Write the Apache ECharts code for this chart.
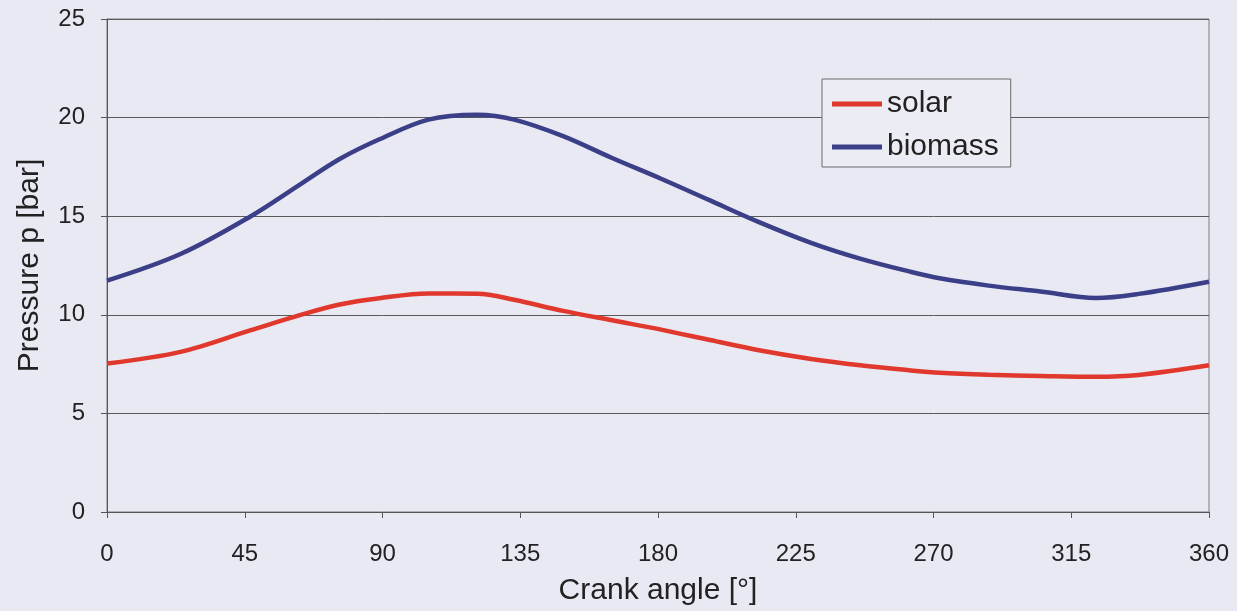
<!DOCTYPE html>
<html><head><meta charset="utf-8">
<script src="https://cdn.jsdelivr.net/npm/echarts@6/dist/echarts.min.js"></script>
<style>html,body{margin:0;padding:0;background:#e9e9f3;}#c{width:1237px;height:611px;}</style>
</head><body><div id="c"></div>
<script>
const angles  = [0, 24, 47, 63, 76, 89, 105, 121, 133, 149, 165, 181, 197, 213, 230, 246, 262, 272, 288, 305, 323, 337, 360];
const solar   = [7.53, 8.12, 9.22, 9.98, 10.52, 10.84, 11.08, 11.07, 10.76, 10.2, 9.72, 9.25, 8.72, 8.2, 7.76, 7.44, 7.19, 7.06, 6.96, 6.9, 6.86, 6.95, 7.44];
const biomass = [11.73, 13.08, 15.0, 16.6, 17.9, 18.9, 19.9, 20.15, 19.9, 19.06, 17.95, 16.9, 15.8, 14.7, 13.65, 12.85, 12.2, 11.85, 11.48, 11.18, 10.85, 11.06, 11.68];

const chart = echarts.init(document.getElementById('c'));
const font = 'Liberation Sans, Arial, sans-serif';
chart.setOption({
  backgroundColor: '#e9e9f3',
  animation: false,
  grid: { left: 107, right: 28, top: 19, bottom: 97, show: true, borderColor: '#7a7a7a', borderWidth: 1 },
  legend: {
    orient: 'vertical', left: 822, top: 79,
    data: ['solar', 'biomass'],
    icon: 'rect', itemWidth: 50, itemHeight: 5, itemGap: 13,
    borderColor: '#6a6a6a', borderWidth: 1, padding: [10, 12, 5, 10],
    backgroundColor: '#ececf4',
    textStyle: { fontFamily: font, fontSize: 30, color: '#222' }
  },
  xAxis: {
    type: 'value', min: 0, max: 360, interval: 45,
    name: 'Crank angle [°]', nameLocation: 'middle', nameGap: 64,
    nameTextStyle: { fontFamily: font, fontSize: 30, color: '#222' },
    axisLine: { show: true, lineStyle: { color: '#555' } },
    axisTick: { show: true, length: 6, lineStyle: { color: '#555' } },
    axisLabel: { fontFamily: font, fontSize: 24, color: '#222', margin: 30 },
    splitLine: { show: false }
  },
  yAxis: {
    type: 'value', min: 0, max: 25, interval: 5,
    name: 'Pressure p [bar]', nameLocation: 'middle', nameGap: 62,
    nameTextStyle: { fontFamily: font, fontSize: 30, color: '#222' },
    axisLine: { show: true, lineStyle: { color: '#555' } },
    axisTick: { show: true, length: 6, lineStyle: { color: '#555' } },
    axisLabel: { fontFamily: font, fontSize: 24, color: '#222', margin: 22 },
    splitLine: { show: true, lineStyle: { color: '#5a5a5a', width: 1 } }
  },
  series: [
    { name: 'solar', type: 'line', smooth: 0.35, symbol: 'none',
      data: angles.map((a, i) => [a, solar[i]]),
      lineStyle: { color: '#e0382c', width: 4.5 }, itemStyle: { color: '#e0382c' } },
    { name: 'biomass', type: 'line', smooth: 0.35, symbol: 'none',
      data: angles.map((a, i) => [a, biomass[i]]),
      lineStyle: { color: '#3b3f88', width: 4.5 }, itemStyle: { color: '#3b3f88' } }
  ]
});
</script></body></html>
